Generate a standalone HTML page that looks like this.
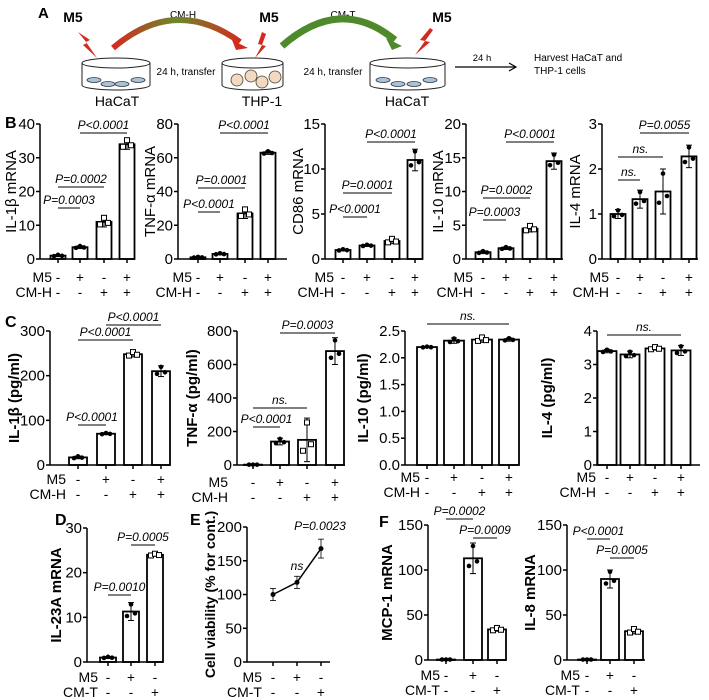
<!DOCTYPE html>
<html><head><meta charset="utf-8"><style>
html,body{margin:0;padding:0;background:#fff}
svg{display:block;font-family:"Liberation Sans",Arial,sans-serif}
</style></head><body>
<svg id="s" width="709" height="700" viewBox="0 0 709 700" xmlns="http://www.w3.org/2000/svg">
<defs>
<linearGradient id="gh" x1="0" x2="1"><stop offset="0" stop-color="#d42a1e"/><stop offset="0.5" stop-color="#6a8a2a"/><stop offset="1" stop-color="#d42a1e"/></linearGradient>
</defs>
<g font-size="14">
<text x="38" y="18" font-weight="bold" font-size="15">A</text>
<text x="73" y="22" text-anchor="middle" font-weight="bold" font-size="14">M5</text>
<text x="269" y="22" text-anchor="middle" font-weight="bold" font-size="14">M5</text>
<text x="442" y="22" text-anchor="middle" font-weight="bold" font-size="14">M5</text>
<text x="183" y="18" text-anchor="middle" font-size="10">CM-H</text>
<text x="343" y="18" text-anchor="middle" font-size="10">CM-T</text>
<path d="M113,48 Q175,-5 240,42" fill="none" stroke="url(#gh)" stroke-width="6"/>
<polygon points="232,40 248,48 236,50" fill="#d42a1e"/>
<path d="M282,46 Q340,-5 395,40" fill="none" stroke="#4f8a2a" stroke-width="7"/>
<polygon points="386,38 402,46 392,50" fill="#4f8a2a"/>
<polygon points="78,32 90,40 86,42 97,58 83,45 87,43" fill="#d42a1e"/>
<polygon points="262,32 258,44 262,45 255,58 266,46 262,45 266,34" fill="#d42a1e"/>
<polygon points="430,28 420,40 425,41 415,55 430,42 425,41 433,30" fill="#d42a1e"/>
<g fill="#fff" stroke="#222" stroke-width="1">
<path d="M82,63 L82,85 A34,5 0 0 0 150,85 L150,63"/>
<ellipse cx="116" cy="63" rx="34" ry="5"/>
<path d="M222,63 L222,85 A30.5,5 0 0 0 283,85 L283,63"/>
<ellipse cx="252.5" cy="63" rx="30.5" ry="5"/>
<path d="M370,63 L370,85 A37.5,5 0 0 0 445,85 L445,63"/>
<ellipse cx="407.5" cy="63" rx="37.5" ry="5"/>
</g>
<g fill="#a9c3d6" stroke="#334" stroke-width="0.8">
<ellipse cx="94" cy="80" rx="7" ry="2.5"/><ellipse cx="108" cy="84" rx="7" ry="2.5"/><ellipse cx="122" cy="84" rx="7" ry="2.5"/><ellipse cx="138" cy="80" rx="7" ry="2.5"/>
<ellipse cx="383" cy="80" rx="7" ry="2.5"/><ellipse cx="398" cy="84" rx="7" ry="2.5"/><ellipse cx="414" cy="84" rx="7" ry="2.5"/><ellipse cx="430" cy="80" rx="7" ry="2.5"/>
</g>
<g fill="#f4d8c0" stroke="#443" stroke-width="0.8">
<circle cx="237" cy="80" r="6"/><circle cx="251" cy="76" r="6"/><circle cx="262" cy="82" r="6"/><circle cx="275" cy="77" r="6"/>
</g>
<text x="117" y="106" text-anchor="middle" font-size="14">HaCaT</text>
<text x="262" y="106" text-anchor="middle" font-size="14">THP-1</text>
<text x="407" y="106" text-anchor="middle" font-size="14">HaCaT</text>
<text x="186" y="75" text-anchor="middle" font-size="10">24 h, transfer</text>
<text x="333" y="75" text-anchor="middle" font-size="10">24 h, transfer</text>
<line x1="455" y1="67" x2="515" y2="67" stroke="#000" stroke-width="1.2"/>
<polyline points="509,63 516,67 509,71" fill="none" stroke="#000" stroke-width="1.2"/>
<text x="482" y="61" text-anchor="middle" font-size="9.5">24 h</text>
<text x="534" y="61" font-size="10">Harvest HaCaT and</text>
<text x="534" y="74" font-size="10">THP-1 cells</text>
</g>
<text x="5" y="128" font-weight="bold" font-size="16">B</text>
<text x="5" y="327" font-weight="bold" font-size="16">C</text>
<text x="55" y="525" font-weight="bold" font-size="16">D</text>
<text x="190" y="525" font-weight="bold" font-size="16">E</text>
<text x="379" y="527" font-weight="bold" font-size="16">F</text>
<g id="g"></g>
</svg>
<script>
var NS="http://www.w3.org/2000/svg",G=document.getElementById("g");
function el(t,a,txt){var e=document.createElementNS(NS,t);for(var k in a)e.setAttribute(k,a[k]);if(txt!=null)e.textContent=txt;G.appendChild(e);return e;}
function line(x1,y1,x2,y2,w){el("line",{x1:x1,y1:y1,x2:x2,y2:y2,stroke:"#000","stroke-width":w||1.5});}
function chart(c){
  var Y=function(v){return c.y0-(v/c.max)*(c.y0-c.yt);};
  var bw=c.bw||15;
  if(c.bars){c.bars.forEach(function(b,i){
    var y=Y(b[1]);
    el("rect",{x:b[0]-bw/2,y:y,width:bw,height:c.y0-y,fill:"#fff",stroke:"#000","stroke-width":1.8});
    var e=b[2]||0;
    if(e>0){line(b[0],Y(b[1]+e),b[0],Y(b[1]-e),1);line(b[0]-3,Y(b[1]+e),b[0]+3,Y(b[1]+e),1);line(b[0]-3,Y(b[1]-e),b[0]+3,Y(b[1]-e),1);}
    var off=[-4,0,4];var vv=[b[1]-e*0.5,b[1]+e*0.8,b[1]-e*0.2];
    off.forEach(function(o,j){
      var mk=c.mk?c.mk[i]:0;
      if(mk==1)el("rect",{x:b[0]+o-2.5,y:Y(vv[j])-2.5,width:5,height:5,fill:"#fff",stroke:"#000","stroke-width":1});
      else el("circle",{cx:b[0]+o,cy:Y(vv[j]),r:2.3,fill:"#000"});
    });
  });}
  line(c.ax,c.yt,c.ax,c.y0);
  line(c.ax,c.y0,c.xend,c.y0);
  c.ticks.forEach(function(t){var y=Y(t[0]);line(c.ax-4,y,c.ax,y);
    el("text",{x:c.ax-5,y:y+5,"text-anchor":"end","font-size":c.tfs||15},t[1]);});
  (c.xs||c.bars.map(function(b){return b[0];})).forEach(function(x){line(x,c.y0,x,c.y0+4);});
  var yc=(c.y0+c.yt)/2;
  el("text",{x:c.ylx,y:yc,"text-anchor":"middle","font-size":c.yfs||15,"font-weight":c.yb?"bold":"normal",transform:"rotate(-90 "+c.ylx+" "+yc+")"},c.yl);
  c.rows.forEach(function(r){
    el("text",{x:c.lx,y:r.y,"text-anchor":"end","font-size":14},r.n);
    r.s.forEach(function(s,i){var x=(c.xs||c.bars.map(function(b){return b[0];}))[i];
      el("text",{x:x,y:r.y,"text-anchor":"middle","font-size":13.5},s);});
  });
  (c.br||[]).forEach(function(b){
    line(b[0],b[2],b[1],b[2],1);
    el("text",{x:(b[0]+b[1])/2,y:b[2]-4,"text-anchor":"middle","font-size":b[4]||12,"font-style":"italic"},b[3]);
  });
}
var pm1=["-","+","-","+"],pm2=["-","-","+","+"];
function rowsB(y){return [{n:"M5",y:y,s:pm1},{n:"CM-H",y:y+15,s:pm2}];}
var t=function(a){return a.map(function(v){return [v,String(v)];});};
chart({ax:40,y0:259,yt:124,max:40,xend:135,ticks:t([0,10,20,30,40]),bars:[[58,1,0.3],[80,3.5,0.4],[104,11,1.5],[127,34,1.5]],mk:[0,0,1,1],ylx:16,yl:"IL-1β mRNA",lx:52,rows:rowsB(282),
 br:[[58,80,208,"P=0.0003"],[58,104,187,"P=0.0002"],[80,127,133,"P<0.0001"]]});
chart({ax:178,y0:259,yt:124,max:80,xend:287,ticks:t([0,20,40,60,80]),bars:[[198,1,0.3],[220,3,0.5],[245,27,3],[268,63,1]],mk:[0,0,1,0],ylx:155,yl:"TNF-α mRNA",lx:192,rows:rowsB(282),
 br:[[198,220,212,"P<0.0001"],[198,245,188,"P=0.0001"],[220,268,133,"P<0.0001"]]});
chart({ax:325,y0:259,yt:124,max:15,xend:423,ticks:t([0,5,10,15]),bars:[[343,1,0.1],[367,1.5,0.1],[392,2,0.3],[415,11,1.2]],mk:[0,0,1,0],ylx:303,yl:"CD86 mRNA",lx:334,rows:rowsB(282),
 br:[[343,367,217,"P<0.0001"],[343,392,193,"P=0.0001"],[367,415,142,"P<0.0001"]]});
chart({ax:466,y0:259,yt:124,max:20,xend:563,ticks:t([0,5,10,15,20]),bars:[[483,1,0.2],[506,1.6,0.2],[530,4.5,0.5],[554,14.5,1.2]],mk:[0,0,1,0],ylx:443,yl:"IL-10 mRNA",lx:473,rows:rowsB(282),
 br:[[483,506,220,"P=0.0003"],[483,530,198,"P=0.0002"],[506,554,142,"P<0.0001"]]});
chart({ax:602,y0:259,yt:124,max:3,xend:698,ticks:t([0,1,2,3]),bars:[[618,1,0.1],[640,1.33,0.2],[663,1.5,0.5],[689,2.28,0.25]],ylx:580,yl:"IL-4 mRNA",lx:609,rows:rowsB(282),
 br:[[618,640,180,"ns."],[618,663,157,"ns."],[640,689,133,"P=0.0055"]]});
chart({ax:50,y0:465,yt:331,max:300,xend:170,bw:18,ticks:t([0,100,200,300]),bars:[[78,17,3],[106,70,2],[133,248,6],[161,210,12]],mk:[0,0,1,0],yb:1,ylx:19,yl:"IL-1β (pg/ml)",lx:66,rows:rowsB(484),
 br:[[78,106,425,"P<0.0001"],[78,133,340,"P<0.0001"],[106,161,325,"P<0.0001"]]});
chart({ax:237,y0:465,yt:331,max:800,xend:345,bw:18,ticks:t([0,200,400,600,800]),bars:[[253,2,0],[280,140,20],[307,150,130],[335,680,80]],mk:[0,0,1,0],yb:1,ylx:197,yl:"TNF-α (pg/ml)",lx:228,rows:rowsB(487),
 br:[[253,280,427,"P<0.0001"],[253,307,408,"ns."],[280,335,333,"P=0.0003"]]});
chart({ax:405,y0:465,yt:331,max:2.5,xend:518,bw:20,ticks:[[0,"0.0"],[0.5,"0.5"],[1,"1.0"],[1.5,"1.5"],[2,"2.0"],[2.5,"2.5"]],bars:[[427,2.2,0.01],[454,2.32,0.05],[482,2.34,0.05],[509,2.34,0.03]],mk:[0,0,1,0],yb:1,ylx:368,yl:"IL-10 (pg/ml)",lx:420,rows:rowsB(482),
 br:[[427,509,324,"ns."]]});
chart({ax:597,y0:465,yt:331,max:4,xend:700,bw:19,ticks:t([0,1,2,3,4]),bars:[[607,3.4,0.05],[630,3.3,0.1],[655,3.48,0.05],[681,3.42,0.15]],mk:[0,0,1,0],yb:1,ylx:552,yl:"IL-4 (pg/ml)",lx:596,rows:rowsB(482),
 br:[[607,681,335,"ns."]]});
var pmT1=["-","+","-"],pmT2=["-","-","+"];
function rowsT(y){return [{n:"M5",y:y,s:pmT1},{n:"CM-T",y:y+15,s:pmT2}];}
chart({ax:87,y0:662,yt:528,max:30,xend:163,bw:16,ticks:t([0,10,20,30]),bars:[[108,1,0.2],[131,11.3,2],[155,24,0.3]],mk:[0,0,1],yb:1,ylx:61,yl:"IL-23A mRNA",lx:98,rows:rowsT(682),
 br:[[108,131,595,"P=0.0010"],[131,155,545,"P=0.0005"]]});
(function(){
 var c={ax:247,y0:662,yt:527,max:200,xend:330,ticks:t([0,50,100,150,200]),xs:[273,297,321],yb:1,yfs:14,ylx:215,yl:"Cell viability (% for cont.)",lx:262,rows:rowsT(682)};
 chart(c);
 var Y=function(v){return c.y0-(v/c.max)*(c.y0-c.yt);};
 var p=[[273,100,9],[297,118,9],[321,168,14]];
 el("polyline",{points:p.map(function(q){return q[0]+","+Y(q[1]);}).join(" "),fill:"none",stroke:"#000","stroke-width":1.5});
 p.forEach(function(q){line(q[0],Y(q[1]+q[2]),q[0],Y(q[1]-q[2]),0.8);line(q[0]-3,Y(q[1]+q[2]),q[0]+3,Y(q[1]+q[2]),0.8);line(q[0]-3,Y(q[1]-q[2]),q[0]+3,Y(q[1]-q[2]),0.8);el("circle",{cx:q[0],cy:Y(q[1]),r:2.5,fill:"#000"});});
 el("text",{x:297,y:570,"text-anchor":"middle","font-size":12,"font-style":"italic"},"ns");
 el("text",{x:320,y:530,"text-anchor":"middle","font-size":12,"font-style":"italic"},"P=0.0023");
})();
chart({ax:428,y0:660,yt:525,max:150,xend:506,bw:18,ticks:t([0,50,100,150]),bars:[[446,0.5,0],[473,113,17],[497,34,2]],mk:[0,0,1],yb:1,ylx:392,yl:"MCP-1 mRNA",lx:440,rows:rowsT(680),
 br:[[446,473,519,"P=0.0002"],[473,497,538,"P=0.0009"]]});
chart({ax:567,y0:660,yt:525,max:150,xend:645,bw:18,ticks:t([0,50,100,150]),bars:[[587,0.5,0],[610,90,10],[634,32,3]],mk:[0,0,1],yb:1,ylx:535,yl:"IL-8 mRNA",lx:580,rows:rowsT(680),
 br:[[587,610,539,"P<0.0001"],[610,634,558,"P=0.0005"]]});
</script>
</body></html>
